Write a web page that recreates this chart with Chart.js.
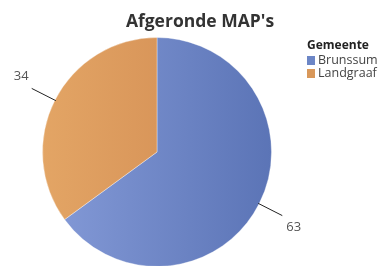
<!DOCTYPE html>
<html>
<head>
<meta charset="utf-8">
<script src="https://cdn.jsdelivr.net/npm/chart.js@4/dist/chart.umd.min.js"></script>
<style>
  html, body { margin:0; padding:0; background:#fff; overflow:hidden; width:392px; height:266px; }
  #wrap { position:absolute; left:0; top:0; width:392px; height:268px; }
  #title { position:absolute; left:0; width:400px; top:8px; text-align:center; font:bold 17.5px "Open Sans", "Noto Sans", sans-serif; color:#333; }
  #legend { position:absolute; left:307px; top:37px; font:12.5px "Open Sans", "Noto Sans", sans-serif; color:#444; }
  #legend .lt { font-weight:bold; color:#222; line-height:16px; font-size:12px; }
  #legend .it { line-height:13px; white-space:nowrap; }
  #legend .sw { display:inline-block; width:8px; height:9px; margin-right:3px; vertical-align:-1px; }
</style>
</head>
<body>
<div id="wrap"><canvas id="c" width="392" height="268"></canvas></div>
<div id="title"></div>
<div id="legend"></div>
<script>
const chartTitle = "Afgeronde MAP's";
const legendTitle = "Gemeente";
const categories = ["Brunssum", "Landgraaf"];
const values = [63, 34];
const colorsLeft = ["#859bd8", "#e3a565"];
const colorsRight = ["#5b74b6", "#cf874f"];
const swatch = ["#6c86c6", "#d9985a"];

document.getElementById('title').textContent = chartTitle;
const lg = document.getElementById('legend');
const t = document.createElement('div'); t.className = 'lt'; t.textContent = legendTitle; lg.appendChild(t);
categories.forEach((c, i) => {
  const d = document.createElement('div'); d.className = 'it';
  const s = document.createElement('span'); s.className = 'sw'; s.style.background = swatch[i];
  d.appendChild(s); d.appendChild(document.createTextNode(c)); lg.appendChild(d);
});

const leaderPlugin = {
  id: 'leader',
  afterDatasetsDraw(chart) {
    const ctx = chart.ctx;
    const meta = chart.getDatasetMeta(0);
    meta.data.forEach((arc, i) => {
      const p = arc.getProps(['x','y','startAngle','endAngle','outerRadius'], true);
      const mid = (p.startAngle + p.endAngle) / 2;
      const cos = Math.cos(mid), sin = Math.sin(mid);
      const r = p.outerRadius;
      const x1 = p.x + cos * (r - 1), y1 = p.y + sin * (r - 1);
      const x2 = p.x + cos * (r + 26), y2 = p.y + sin * (r + 26);
      ctx.save();
      ctx.strokeStyle = '#222';
      ctx.lineWidth = 1;
      ctx.beginPath(); ctx.moveTo(x1, y1); ctx.lineTo(x2, y2); ctx.stroke();
      ctx.fillStyle = '#555';
      ctx.font = '13px "Open Sans", "Noto Sans", sans-serif';
      const right = cos >= 0;
      ctx.textAlign = right ? 'left' : 'right';
      ctx.textBaseline = 'middle';
      const tx = x2 + (right ? 4 : -3);
      const ty = y2 + (sin >= 0 ? 12 : -12);
      ctx.fillText(String(values[i]), tx, ty);
      ctx.restore();
    });
  }
};

function grad(ctx, i) {
  const chart = ctx.chart;
  const a = chart.chartArea;
  if (!a) return colorsLeft[i];
  const g = chart.ctx.createLinearGradient(a.left, 0, a.right, 0);
  g.addColorStop(0, colorsLeft[i]);
  g.addColorStop(1, colorsRight[i]);
  return g;
}

new Chart(document.getElementById('c'), {
  type: 'pie',
  data: {
    labels: categories,
    datasets: [{
      data: values,
      backgroundColor: (ctx) => grad(ctx, ctx.dataIndex),
      borderColor: 'rgba(255,255,255,0.35)',
      borderWidth: 1
    }]
  },
  options: {
    responsive: false,
    animation: false,
    layout: { padding: { left: 42, right: 120, top: 37, bottom: 1 } },
    plugins: { legend: { display: false }, title: { display: false }, tooltip: { enabled: false } }
  },
  plugins: [leaderPlugin]
});
</script>
</body>
</html>
